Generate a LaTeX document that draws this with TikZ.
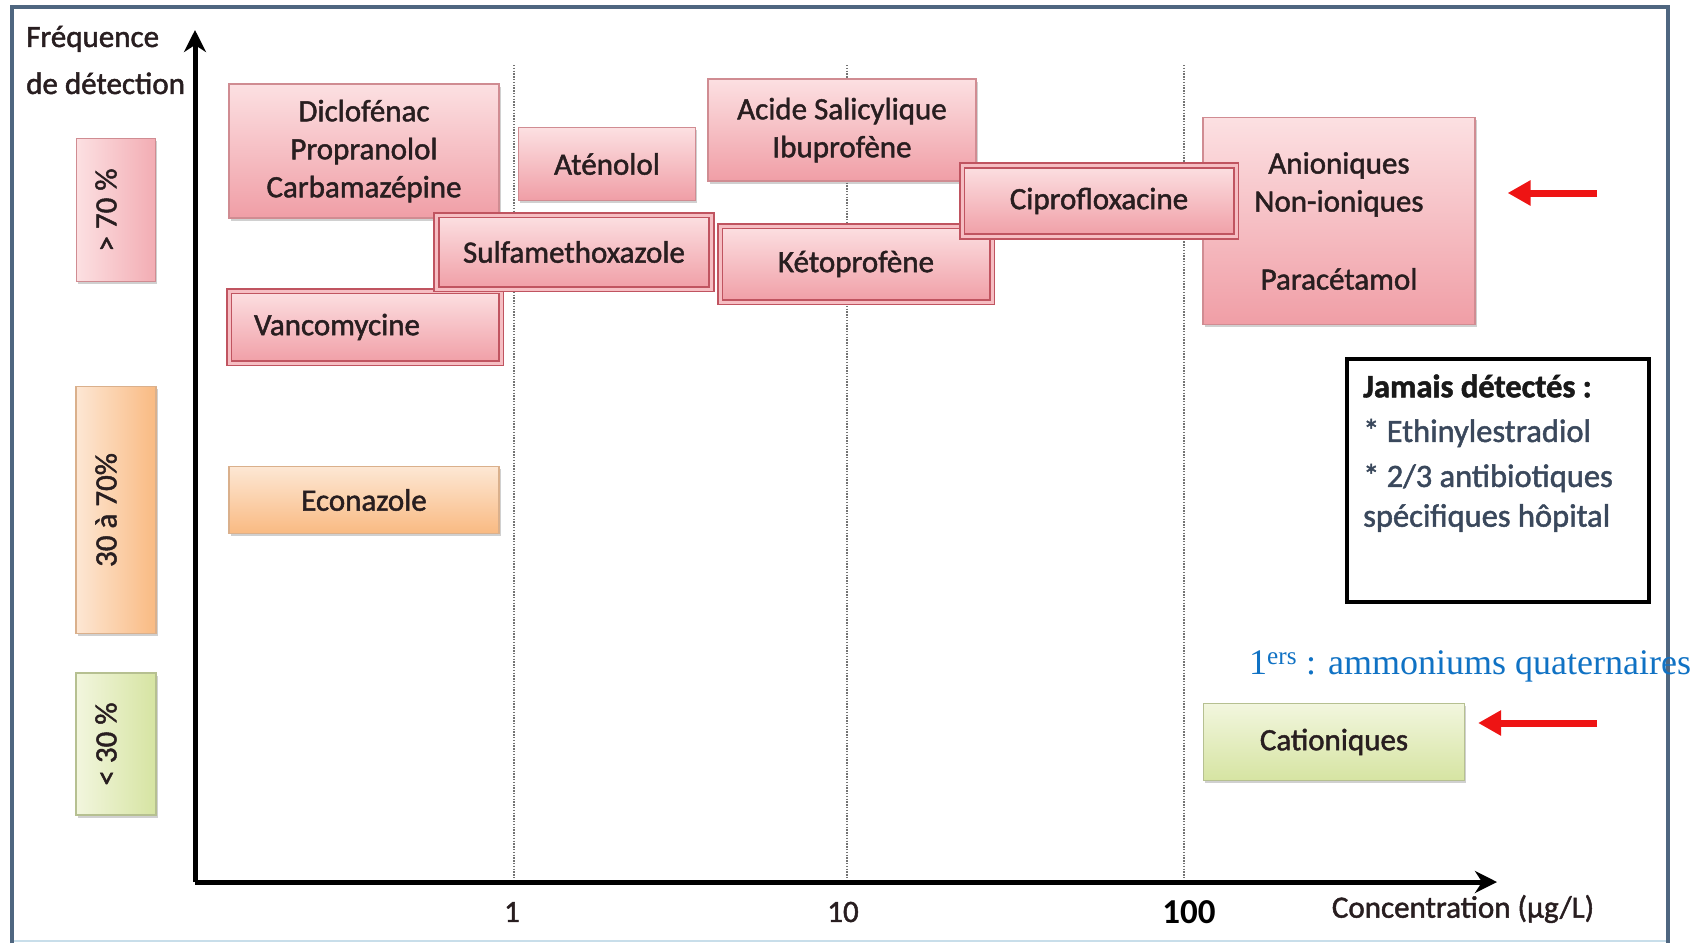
\documentclass[tikz,border=0pt]{standalone}
\usepackage{fontspec}
\usepackage{graphicx}
\setmainfont{Carlito}
\newfontfamily\medfont[FakeBold=1.5]{Carlito}
\newfontfamily\serifrm{Liberation Serif}
\usetikzlibrary{arrows.meta,shadows}

\definecolor{frameblue}{RGB}{79,102,128}
\definecolor{framelight}{RGB}{200,222,234}
\definecolor{pinkTop}{RGB}{252,224,226}
\definecolor{pinkBot}{RGB}{240,158,166}
\definecolor{pinkLine}{RGB}{208,140,146}
\definecolor{pinkMid}{RGB}{246,190,195}
\definecolor{redLine}{RGB}{192,84,96}
\definecolor{orTop}{RGB}{253,231,212}
\definecolor{orBot}{RGB}{249,186,130}
\definecolor{orLine}{RGB}{218,176,140}
\definecolor{grTop}{RGB}{242,246,222}
\definecolor{grBot}{RGB}{214,228,162}
\definecolor{grLine}{RGB}{182,192,145}
\definecolor{notetext}{RGB}{58,72,92}
\definecolor{quatblue}{RGB}{16,114,196}
\definecolor{arrowred}{RGB}{238,20,20}
\definecolor{inkdark}{RGB}{40,30,32}

\newcommand\lbl{\medfont\fontsize{31}{38}\selectfont}
\newcommand\notefont{\medfont\fontsize{32.5}{38}\selectfont}

\tikzset{
  shadowed/.style={drop shadow={shadow xshift=1.5pt, shadow yshift=-2.5pt, opacity=0.3, fill=black!60}},
  box/.style={rectangle, inner sep=0pt, align=center, font=\lbl, text=inkdark},
  pinkbox/.style={box, shadowed, top color=pinkTop, bottom color=pinkBot, draw=pinkLine, line width=1.2pt},
  pinkdouble/.style={box, shadowed, top color=pinkTop, bottom color=pinkBot, draw=redLine, double=pinkMid, double distance=3pt, line width=1.6pt},
  orbox/.style={box, shadowed, top color=orTop, bottom color=orBot, draw=orLine, line width=1.2pt},
  grbox/.style={box, shadowed, top color=grTop, bottom color=grBot, draw=grLine, line width=1.2pt},
  catbox/.style={rectangle, inner sep=0pt, shadowed, line width=1.2pt},
  cattext/.style={font=\lbl, text=inkdark, rotate=90, inner sep=0pt},
  notebox/.style={rectangle, draw=black, line width=4pt, fill=white},
  notetxt/.style={anchor=west, inner sep=0pt, font=\notefont, text=notetext},
  axisline/.style={line width=5pt, black, -{Stealth[length=22pt, width=22pt, inset=7pt]}},
  gridline/.style={draw=black!55, line width=1.6pt, dash pattern=on 1.4pt off 1.4pt},
  redarrow/.style={draw=arrowred, line width=7pt, -{Triangle[length=23pt, width=24pt]}},
  ticklbl/.style={inner sep=0pt, font=\lbl, text=inkdark}
}

\begin{document}
\begin{tikzpicture}[x=1pt, y=-1pt]
\useasboundingbox (0,0) rectangle (1703,945);
\fill[white] (0,0) rectangle (1703,945);

% outer frame
\draw[framelight, line width=2.5pt] (12,941) -- (1668,941);
\draw[frameblue, line width=3.5pt] (12,943) -- (12,7) -- (1668,7) -- (1668,943);

% dotted concentration markers
\foreach \x in {514,847,1184} \draw[gridline] (\x,65) -- (\x,882);

% axes
\coordinate (O) at (195,882);
\coordinate (ytop) at (195,30);
\coordinate (xend) at (1497,882);
\draw[axisline] (O) -- (ytop);
\draw[axisline] (O) -- (xend);

% axis titles and ticks
\node[anchor=west, align=left, inner sep=0pt, font=\medfont\fontsize{31}{47}\selectfont, text=inkdark] (ylab) at (26,60) {Fréquence\\de détection};
\node[ticklbl] (t1) at (512,912) {1};
\node[ticklbl] (t10) at (843,912) {10};
\node[inner sep=0pt, font=\bfseries\fontsize{35}{40}\selectfont] (t100) at (1189,912) {100};
\node[ticklbl] (xlab) at (1463,909) {Concentration (µg/L)};

% detection frequency classes
\node[catbox, left color=pinkTop, right color=pinkBot!85, draw=pinkLine, minimum width=79pt, minimum height=143pt] (c70) at (116,210) {};
\node[cattext] (c70t) at ([xshift=-10pt]c70.center) {> 70 \%};
\node[catbox, left color=orTop, right color=orBot, draw=orLine, minimum width=80pt, minimum height=247pt] (c3070) at (116,510) {};
\node[cattext] (c3070t) at ([xshift=-10pt]c3070.center) {30 à 70\%};
\node[catbox, left color=grTop, right color=grBot, draw=grLine, minimum width=80pt, minimum height=142pt] (c30) at (116,744) {};
\node[cattext] (c30t) at ([xshift=-10pt]c30.center) {< 30 \%};

% compounds
\node[pinkbox, minimum width=270pt, minimum height=134pt] (dic) at (364,151) {Diclofénac\\Propranolol\\Carbamazépine};
\node[pinkbox, minimum width=177pt, minimum height=73pt] (ate) at (607,164) {Aténolol};
\node[pinkbox, minimum width=268pt, minimum height=102pt] (aci) at (842,130) {Acide Salicylique\\Ibuprofène};
\node[pinkbox, minimum width=272pt, minimum height=207pt] (ani) at (1339,221) {Anioniques\\Non-ioniques\\[40pt]Paracétamol};
\node[pinkdouble, minimum width=272pt, minimum height=72pt] (van) at (365,327) {\hspace*{-56pt}Vancomycine};
\node[pinkdouble, minimum width=275pt, minimum height=74pt] (sul) at (574,252) {Sulfamethoxazole};
\node[pinkdouble, minimum width=272pt, minimum height=76pt] (ket) at (856,264) {Kétoprofène};
\node[pinkdouble, minimum width=274pt, minimum height=71pt] (cip) at (1099,201) {Ciprofloxacine};
\node[orbox, minimum width=270pt, minimum height=67pt] (eco) at (364,500) {Econazole};
\node[grbox, minimum width=261pt, minimum height=77pt] (cat) at (1334,742) {Cationiques};

% compounds never detected
\node[notebox, minimum width=302pt, minimum height=243pt] (jam) at (1498,480) {};
\node[notetxt, font=\bfseries\notefont, text=black!90] (jamT) at (1363,386) {Jamais détectés :};
\node[notetxt] (jam1) at (1363,433) {* Ethinylestradiol};
\node[notetxt] (jam2) at (1363,478) {* 2/3 antibiotiques};
\node[notetxt] (jam3) at (1363,518) {spécifiques hôpital};

% annotation and pointers
\node[anchor=base west, inner sep=0pt, font=\serifrm\fontsize{36}{40}\selectfont, text=quatblue] (quat) at (1249,674) {1\textsuperscript{ers} : ammoniums quaternaires};
\coordinate (a1) at (1597,193);
\coordinate (a2) at (1597,723);
\draw[redarrow, shorten >=32pt] (a1) -- (a1 -| ani.east);
\draw[redarrow, shorten >=13pt] (a2) -- (a2 -| cat.east);
\end{tikzpicture}
\end{document}
